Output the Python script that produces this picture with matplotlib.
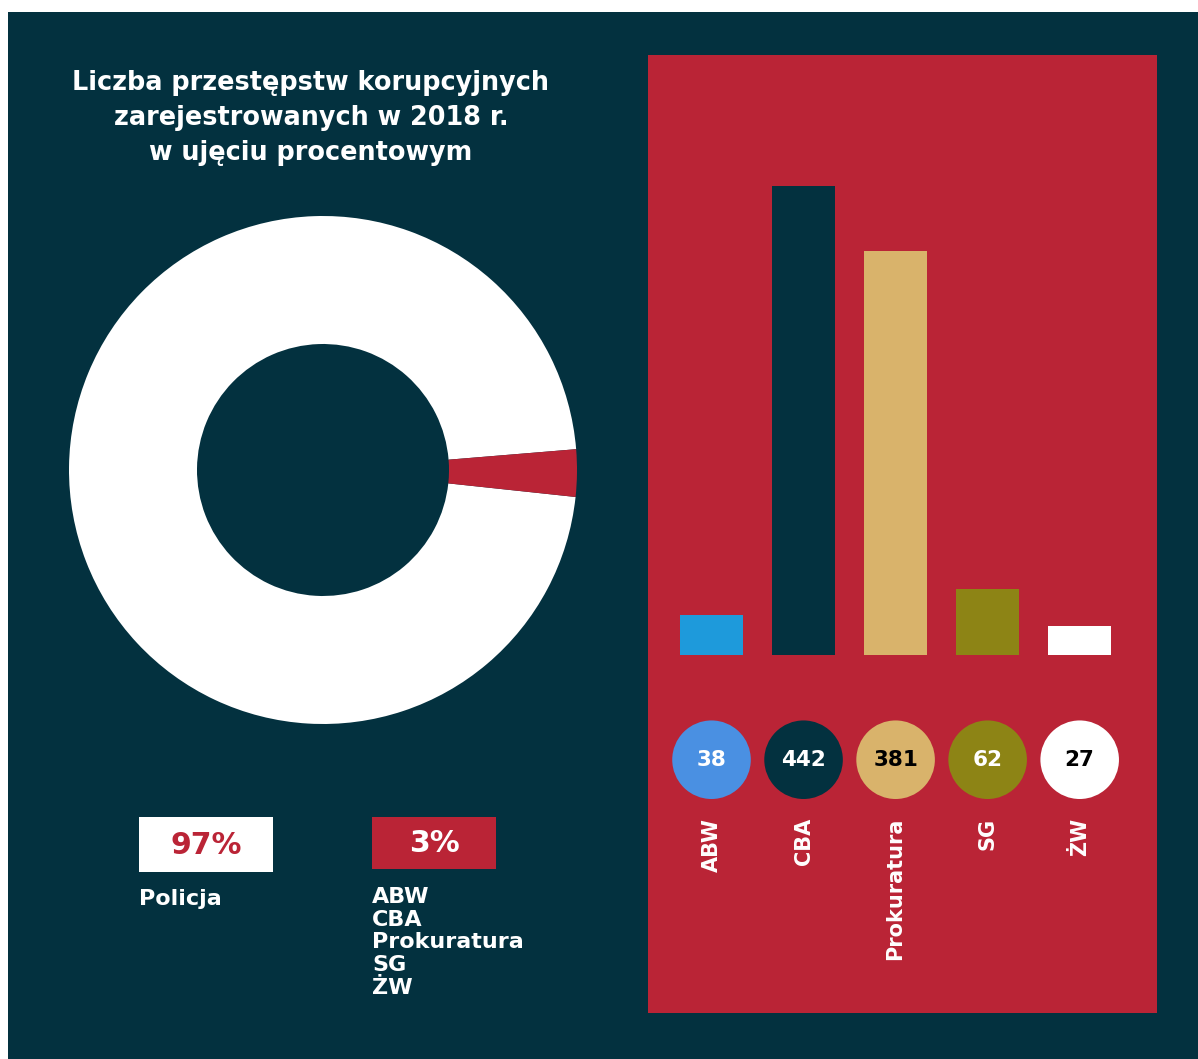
import matplotlib
matplotlib.use("Agg")
import matplotlib.pyplot as plt
from matplotlib.patches import Rectangle

# dane
share_labels = ['Policja', 'Pozostałe']
shares = [97, 3]
share_texts = ['97%', '3%']
other_units = ['ABW', 'CBA', 'Prokuratura', 'SG', 'ŻW']

units = ['ABW', 'CBA', 'Prokuratura', 'SG', 'ŻW']
counts = [38, 442, 381, 62, 27]

NAVY = '#03313f'
RED = '#ba2436'
bar_colors = ['#1e9adb', NAVY, '#d9b36b', '#8d8415', '#ffffff']
circle_colors = ['#4a90e2', NAVY, '#d9b36b', '#8d8415', '#ffffff']
circle_text_colors = ['white', 'white', 'black', 'white', 'black']

plt.rcParams['font.family'] = ['DejaVu Sans']

W, H = 1198, 1059
fig = plt.figure(figsize=(W / 100, H / 100), dpi=100, facecolor='white')


def fx(px):
    return px / W


def fy(py):
    return 1 - py / H


# tło
fig.patches.append(Rectangle((fx(8), 0), 1 - fx(8), fy(12), transform=fig.transFigure,
                             facecolor=NAVY, edgecolor='none', zorder=-5))
fig.patches.append(Rectangle((fx(648), fy(1013)), fx(1157 - 648), (1013 - 55) / H,
                             transform=fig.transFigure, facecolor=RED, edgecolor='none', zorder=-4))

# tytuł
fig.text(fx(311), fy(118), 'Liczba przestępstw korupcyjnych\nzarejestrowanych w 2018 r.\nw ujęciu procentowym',
         ha='center', va='center', color='white', fontsize=18.4, fontweight='bold', linespacing=1.45)

# donut
cx, cy, r_out, r_in = 323, 470, 254, 126
ax_pie = fig.add_axes([fx(cx - r_out), fy(cy + r_out), 2 * r_out / W, 2 * r_out / H])
ax_pie.pie(shares, colors=['white', RED], startangle=4.7, radius=1,
           wedgeprops=dict(width=1 - r_in / r_out, linewidth=0))
ax_pie.set_xlim(-1, 1)
ax_pie.set_ylim(-1, 1)
ax_pie.set_aspect('auto')
ax_pie.axis('off')

# legenda donuta
fig.patches.append(Rectangle((fx(139), fy(872)), fx(273 - 139), (872 - 817) / H,
                             transform=fig.transFigure, facecolor='white', edgecolor='none'))
fig.patches.append(Rectangle((fx(372), fy(869)), fx(496 - 372), (869 - 817) / H,
                             transform=fig.transFigure, facecolor=RED, edgecolor='none'))
fig.text(fx(206), fy(845), share_texts[0], ha='center', va='center', color=RED,
         fontsize=21.5, fontweight='bold')
fig.text(fx(434), fy(843), share_texts[1], ha='center', va='center', color='white',
         fontsize=21.5, fontweight='bold')
fig.text(fx(139), fy(889), share_labels[0], ha='left', va='top', color='white',
         fontsize=16, fontweight='bold')
fig.text(fx(372), fy(887), '\n'.join(other_units), ha='left', va='top', color='white',
         fontsize=16, fontweight='bold', linespacing=1.17)

# wykres słupkowy
ax = fig.add_axes([fx(648), fy(1013), fx(1157 - 648), (1013 - 55) / H])
ax.set_xlim(-0.69, 4.84)
ax.set_ylim(-338, 566)
ax.axis('off')
x = list(range(len(units)))
ax.bar(x, counts, width=0.685, color=bar_colors, linewidth=0)

ax.scatter(x, [-99] * len(x), s=3200, c=circle_colors, linewidths=0, zorder=3)
for i, v in enumerate(counts):
    ax.text(x[i], -99, str(v), ha='center', va='center', color=circle_text_colors[i],
            fontsize=15.5, fontweight='bold', zorder=4)
    ax.text(x[i], -154, units[i], ha='center', va='top', rotation=90, color='white',
            fontsize=15, fontweight='bold')

fig.savefig('out.png', dpi=100, facecolor=fig.get_facecolor())
